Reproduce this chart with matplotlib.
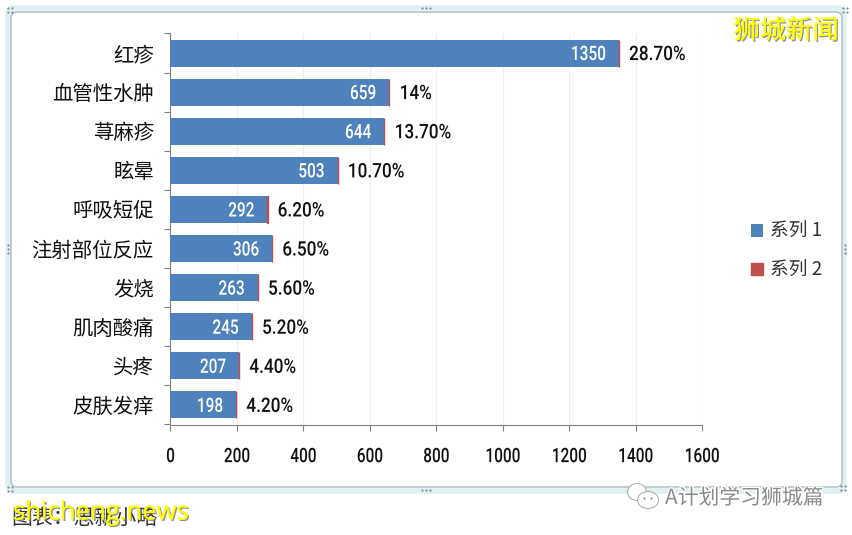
import matplotlib
matplotlib.use('Agg')
import matplotlib.pyplot as plt
import matplotlib.patheffects as pe
from matplotlib.patches import FancyBboxPatch, Ellipse
from matplotlib.transforms import Affine2D

plt.rcParams['font.family'] = ['Noto Sans CJK SC', 'DejaVu Sans']

categories = ['红疹', '血管性水肿', '荨麻疹', '眩晕', '呼吸短促',
              '注射部位反应', '发烧', '肌肉酸痛', '头疼', '皮肤发痒']
counts = [1350, 659, 644, 503, 292, 306, 263, 245, 207, 198]
shares = [0.287, 0.14, 0.137, 0.107, 0.062, 0.065, 0.056, 0.052, 0.044, 0.042]
share_labels = ['28.70%', '14%', '13.70%', '10.70%', '6.20%',
                '6.50%', '5.60%', '5.20%', '4.40%', '4.20%']
x_ticks = [0, 200, 400, 600, 800, 1000, 1200, 1400, 1600]

NUM_FONT = ['Roboto', 'DejaVu Sans']
NUM_SIZE = 14.4
W, H = 853, 535
PX = 72 / 100  # points per pixel


class Narrow(pe.AbstractPathEffect):
    # no condensed font is installed, so squeeze the glyphs sideways
    def __init__(self, anchor='left', factor=0.77):
        super().__init__()
        self.anchor = anchor
        self.factor = factor

    def draw_path(self, renderer, gc, tpath, affine, rgbFace=None):
        box = tpath.get_extents()
        x0 = {'left': box.x0, 'center': (box.x0 + box.x1) / 2, 'right': box.x1}[self.anchor]
        squeeze = Affine2D().translate(-x0, 0).scale(self.factor, 1).translate(x0, 0)
        renderer.draw_path(gc, tpath, squeeze + affine, rgbFace)


def add_frame(fig):
    # backdrop axes in pixel coordinates, for the window frame and watermarks
    bg = fig.add_axes([0, 0, 1, 1], zorder=0)
    bg.set_xlim(0, W)
    bg.set_ylim(H, 0)
    bg.axis('off')

    bg.add_patch(FancyBboxPatch((8, 8), 836, 483, boxstyle='round,pad=0,rounding_size=6',
                                fc='white', ec='#E0EFF2', lw=4))
    bg.add_patch(FancyBboxPatch((11, 12), 831, 475, boxstyle='round,pad=0,rounding_size=6',
                                fc='white', ec='#B4C4C8', lw=1.2))

    # resize handles
    for x, y in [(426, 8), (426, 490), (8, 249), (845, 249)]:
        dx, dy = (4, 0) if y in (8, 490) else (0, 4)
        bg.scatter([x - dx, x, x + dx], [y - dy, y, y + dy], s=2.5, c='#7F8C90', lw=0)
    for x, y in [(10, 10), (845, 10), (10, 489), (843, 488)]:
        bg.scatter([x - 2, x + 2, x - 2, x + 2], [y - 2, y - 2, y + 2, y + 2],
                   s=2.5, c='#7F8C90', lw=0)
    return bg


def add_watermarks(fig):
    top = fig.add_axes([0, 0, 1, 1], zorder=3)
    top.set_xlim(0, W)
    top.set_ylim(H, 0)
    top.axis('off')
    top.patch.set_alpha(0)

    shadow = [pe.withSimplePatchShadow(offset=(1, -1), shadow_rgbFace='#777777', alpha=0.8),
              pe.Normal()]
    top.text(786, 31, '狮城新闻', color='#FFFF00', fontsize=19, ha='center', va='center',
             path_effects=shadow)

    top.text(11, 518, '图表：思新小略', color='#333333', fontsize=15, ha='left', va='center')
    top.text(13, 513, 'shicheng.news', color='#FFFF00', fontsize=18.5, ha='left', va='center',
             family=['Open Sans', 'DejaVu Sans'], path_effects=shadow)

    halo = [pe.withStroke(linewidth=2, foreground='white')]
    top.text(665, 498, 'A计划学习狮城篇', color='#8C8C8C', fontsize=15, ha='left', va='center',
             path_effects=halo)
    # wechat style logo
    top.add_patch(Ellipse((637, 492), 19, 17, fc='white', ec='#B0B0B0', lw=0.8))
    top.add_patch(Ellipse((648, 500), 21, 17, fc='white', ec='#B0B0B0', lw=0.8))
    top.scatter([644, 651], [498, 498], s=3, c='#A0A0A0', lw=0)


def main():
    fig = plt.figure(figsize=(W / 100, H / 100), dpi=100)
    add_frame(fig)

    ax = fig.add_axes([170.5 / W, 1 - 424.5 / H, (702 - 170.5) / W, (424.5 - 33.5) / H], zorder=2)
    ax.patch.set_alpha(0)

    y = list(range(len(categories)))
    bars1 = ax.barh(y, counts, height=0.69, color='#4F81BD', label='系列 1', zorder=3)
    bars2 = ax.barh(y, shares, left=counts, height=0.69, color='#C0504D',
                    edgecolor='#C0504D', linewidth=1, label='系列 2', zorder=3)

    ax.set_xlim(0, 1600)
    ax.set_ylim(len(categories) - 0.5, -0.5)
    ax.set_xticks(x_ticks)
    ax.set_yticks(y)
    ax.set_yticklabels(categories, fontsize=14.7, color='#111111')
    ax.set_yticks([i - 0.5 for i in range(len(categories) + 1)], minor=True)
    ax.tick_params(axis='y', which='major', length=0, pad=12)
    ax.tick_params(axis='y', which='minor', length=6 * PX, width=0.8, color='#808080')
    ax.tick_params(axis='x', length=6 * PX, width=0.8, color='#808080', pad=12,
                   labelsize=NUM_SIZE, labelcolor='#111111')
    for label in ax.get_xticklabels():
        label.set_family(NUM_FONT)
        label.set_fontweight('medium')
        label.set_path_effects([Narrow('center')])

    ax.grid(axis='x', color='#EDEFF0', lw=0.8, zorder=0)
    ax.set_axisbelow(True)
    for side in ['top', 'right']:
        ax.spines[side].set_visible(False)
    for side in ['left', 'bottom']:
        ax.spines[side].set_color('#808080')
        ax.spines[side].set_linewidth(0.8)

    # data labels, series 1 inside the bar and share outside it
    for i, (count, label) in enumerate(zip(counts, share_labels)):
        ax.annotate(str(count), (count, i), xytext=(-13 * PX, -1.5 * PX), textcoords='offset points',
                    ha='right', va='center', color='white', fontsize=NUM_SIZE, family=NUM_FONT,
                    fontweight='medium', path_effects=[Narrow('right')], zorder=4)
        ax.annotate(label, (count, i), xytext=(10 * PX, -1.5 * PX), textcoords='offset points',
                    ha='left', va='center', color='#111111', fontsize=NUM_SIZE, family=NUM_FONT,
                    fontweight='medium', path_effects=[Narrow('left', 0.86)], zorder=4)

    fig.legend(handles=[bars1, bars2], loc='center left', bbox_to_anchor=(751 / W, 1 - 251 / H),
               frameon=False, fontsize=13.5, labelcolor='#333333', handlelength=0.62,
               handleheight=0.62, handletextpad=0.42, labelspacing=0.95, borderpad=0,
               borderaxespad=0)

    add_watermarks(fig)
    fig.savefig('out.png', dpi=100)


if __name__ == "__main__":
    main()
